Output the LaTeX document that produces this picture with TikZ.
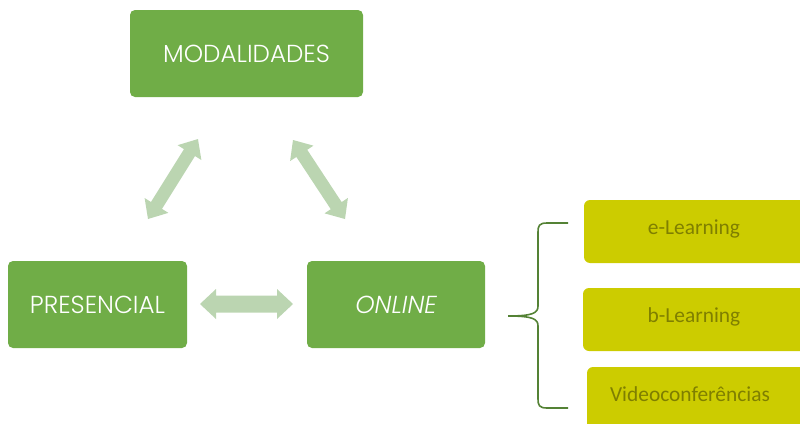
\documentclass[tikz,border=0pt]{standalone}
\usepackage{fontspec}
\IfFontExistsTF{Poppins Light}{\newfontfamily\gothic{Poppins Light}}{\newfontfamily\gothic{Poppins}}
\newfontfamily\calib{Carlito}
\definecolor{boxgreen}{HTML}{70AD47}
\definecolor{arrgreen}{HTML}{BBD5B1}
\definecolor{olivebox}{HTML}{CCCC00}
\definecolor{olivetext}{HTML}{7F7F00}
\definecolor{bracegreen}{HTML}{548235}
\tikzset{
  mainbox/.style={fill=boxgreen, rounded corners=5pt},
  mainlabel/.style={text=white, font=\gothic\fontsize{24.6}{27}\selectfont},
  subbox/.style={fill=olivebox, rounded corners=6pt},
  sublabel/.style={text=olivetext, font=\calib\fontsize{21.4}{24}\selectfont},
  arrowfill/.style={fill=arrgreen}
}
\newcommand{\dblarr}[1]{%
  \fill[arrowfill] (0,0) -- (16,-14) -- (16,-6.5) -- (#1-16,-6.5) -- (#1-16,-14) -- (#1,0) -- (#1-16,14) -- (#1-16,6.5) -- (16,6.5) -- (16,14) -- cycle;}
\begin{document}
\begin{tikzpicture}[x=1pt,y=-1pt]
\useasboundingbox (0,0) rectangle (800,423);
\begin{scope}
\clip (0,0) rectangle (800,423);
% main boxes
\path[mainbox] (130,10) rectangle (363,97);
\node[mainlabel] (mod) at (246.5,54) {MODALIDADES};
\path[mainbox] (8,261) rectangle (187,348);
\node[mainlabel] (pres) at (97.5,304.5) {PRESENCIAL};
\path[mainbox] (307,261) rectangle (485,348);
\node[mainlabel, font=\gothic\fontsize{24.6}{27}\selectfont\itshape] (onl) at (396,304.5) {ONLINE};
% sub boxes
\path[subbox] (584,200) rectangle (815,263);
\node[sublabel] (el) at (694,229) {e-Learning};
\path[subbox] (583,288) rectangle (815,351);
\node[sublabel] (bl) at (694,317) {b-Learning};
\path[subbox] (587,367) rectangle (815,440);
\node[sublabel] (vc) at (690,394) {Videoconferências};
% arrows
\coordinate (a1) at (148,219);
\coordinate (b1) at (293,140);
\coordinate (c1) at (200,304);
\begin{scope}[shift={(c1)}]
\fill[arrowfill] (0,0) -- (16,-15) -- (16,-8.5) -- (77,-8.5) -- (77,-15) -- (93,0) -- (77,15) -- (77,8.5) -- (16,8.5) -- (16,15) -- cycle;
\end{scope}
\begin{scope}[shift={(a1)}, rotate={-atan2(139-219,198-148)}]
\dblarr{94.3}
\end{scope}
\begin{scope}[shift={(b1)}, rotate={-atan2(219-140,345-293)}]
\dblarr{94.6}
\end{scope}
% brace
\coordinate (bt) at (568,223);
\coordinate (bb) at (568,408);
\coordinate (bm) at (508,316);
\draw[bracegreen, line width=1.6pt] (bt) -- (547,223) .. controls (539,223) and (538,226) .. (538,232) -- (538,306) .. controls (538,313) and (533,316) .. (bm)
  .. controls (533,316) and (538,319) .. (538,326) -- (538,399) .. controls (538,405) and (539,408) .. (547,408) -- (bb);
\end{scope}
\end{tikzpicture}
\end{document}
